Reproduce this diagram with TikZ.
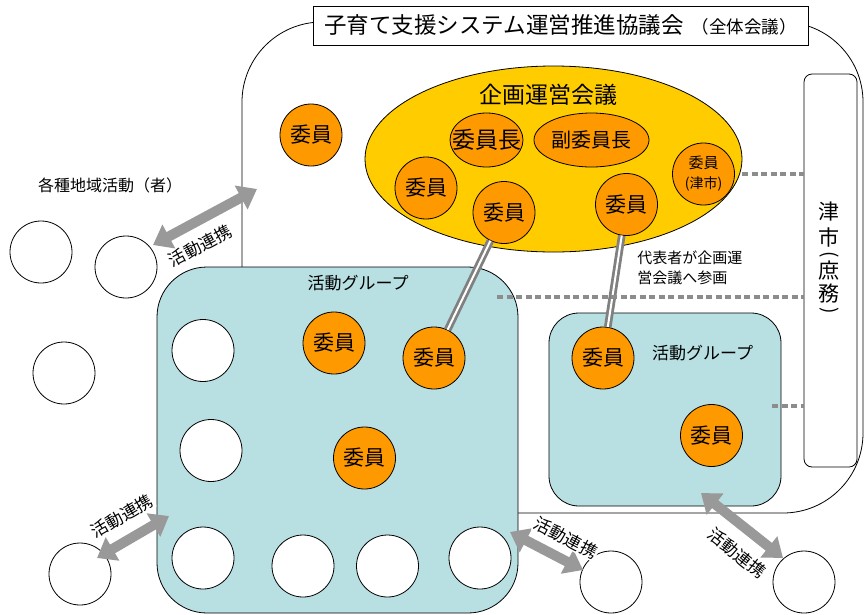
\documentclass[tikz,border=0pt]{standalone}
\usepackage{fontspec}
\setmainfont{Noto Sans CJK JP}
\usetikzlibrary{arrows.meta,shapes.geometric}
\definecolor{gold}{HTML}{FFCC00}
\definecolor{orng}{HTML}{FF9900}
\definecolor{aqua}{HTML}{B8DFE2}
\definecolor{dotgray}{HTML}{8C8C8C}
\definecolor{arrgray}{HTML}{999999}
\definecolor{dblgray}{HTML}{808080}
\newcommand{\fsz}[1]{\fontsize{#1}{#1}\selectfont}
\begin{document}
\begin{tikzpicture}[x=1pt,y=-1pt, line width=0.8pt,
  orangeshape/.style={draw, fill=orng, inner sep=0pt},
  member/.style={orangeshape, circle, minimum size=62pt, label={[font=\fsz{21}, inner sep=0pt]center:#1}},
  blank/.style={circle, draw, fill=white, minimum size=62pt, inner sep=0pt},
  grpbox/.style={draw, fill=aqua, inner sep=0pt},
  citych/.style={font=\fsz{21}, inner sep=0pt},
  citypar/.style={font=\fsz{19}, inner sep=0pt, rotate=-90},
  dotline/.style={draw=dotgray, line width=4.5pt, dash pattern=on 6pt off 3.5pt},
  dblline/.style={draw=dblgray, line width=2.8pt, double=white, double distance=2pt},
  biarrow/.style={draw=arrgray, line width=10pt, {Triangle[width=26pt,length=18pt]}-{Triangle[width=26pt,length=18pt]}},
  linklabel/.style={font=\fsz{17}, fill=white, inner sep=1pt}
]
\useasboundingbox (0,0) rectangle (864,614);
\fill[white] (0,0) rectangle (864,614);

% whole council frame
\node[draw, rounded corners=80pt, fill=white, minimum width=621pt, minimum height=491pt, inner sep=0pt] (whole) at (552.5,267.5) {};
\node[draw, fill=white, minimum width=495pt, minimum height=39pt, inner sep=0pt] (title) at (560.5,25.5)
  {{\fsz{22.5}子育て支援システム運営推進協議会}\hspace{8pt}{\fsz{17.5}（全体会議）}};

% city box
\node[draw, fill=white, rounded corners=8pt, minimum width=53pt, minimum height=393pt, inner sep=0pt] (city) at (830.5,270.5) {};
\node[citych] (ct1) at (829,212) {津};
\node[citych] (ct2) at (829,237) {市};
\node[citypar] (ct3) at (829,255) {(};
\node[citych] (ct4) at (829,271) {庶};
\node[citych] (ct5) at (829,294) {務};
\node[citypar] (ct6) at (829,311) {)};

% planning committee
\node[ellipse, draw, fill=gold, minimum width=377pt, minimum height=186pt, inner sep=0pt] (plan) at (553.5,159) {};
\node[font=\fsz{23}, inner sep=0pt] (plantitle) at (548.5,95) {企画運営会議};
\node[orangeshape, ellipse, minimum width=73pt, minimum height=54pt, label={[font=\fsz{23}, inner sep=0pt]center:委員長}] (chair) at (486.5,140) {};
\node[orangeshape, ellipse, minimum width=115pt, minimum height=54pt, label={[font=\fsz{20}, inner sep=0pt]center:副委員長}] (vice) at (591.5,140) {};
\node[member=委員] (m1) at (426,188) {};
\node[member=委員] (m2) at (504,212.5) {};
\node[member=委員] (m3) at (626.5,204.5) {};
\node[orangeshape, circle, minimum size=62pt] (m4) at (703.5,174) {};
\node[font=\fontsize{15}{20}\selectfont, align=center, inner sep=0pt] (m4txt) at (703.5,174) {委員\\{\fsz{14}(津市)}};
\node[member=委員] (m0) at (311,135) {};

% activity group 1
\node[grpbox, rounded corners=50pt, minimum width=361pt, minimum height=346pt] (g1) at (337.5,440) {};
\node[font=\fsz{17}, inner sep=0pt] (g1lbl) at (358,283) {活動グループ};
\node[blank] (b1) at (203,350.5) {};
\node[blank] (b2) at (211,450.5) {};
\node[blank] (b3) at (203,558) {};
\node[blank] (b4) at (303,566) {};
\node[blank] (b5) at (387.5,566) {};
\node[blank] (b6) at (480,558) {};
\node[member=委員] (g1m1) at (334,343) {};
\node[member=委員] (g1m2) at (434,358) {};
\node[member=委員] (g1m3) at (364.5,458) {};

% activity group 2
\node[grpbox, rounded corners=30pt, minimum width=232pt, minimum height=193pt] (g2) at (665,409.5) {};
\node[font=\fsz{17}, inner sep=0pt] (g2lbl) at (702.5,353) {活動グループ};
\node[member=委員] (g2m1) at (603,358) {};
\node[member=委員] (g2m2) at (711.5,435.5) {};

% outside circles
\node[blank] (o1) at (41,252) {};
\node[blank] (o2) at (126,267) {};
\node[blank] (o3) at (64,373) {};
\node[blank] (o4) at (80,574) {};
\node[blank] (o5) at (611,582) {};
\node[blank] (o6) at (804,582) {};
\node[font=\fsz{16}, inner sep=0pt] (local) at (110,185) {各種地域活動（者）};

% representatives
\draw[dblline] (m2) -- (g1m2);
\draw[dblline] (m3) -- (g2m1);
\node[font=\fontsize{15}{20}\selectfont, align=left, anchor=north west, inner sep=0pt] (rep) at (637,250) {代表者が企画運\\営会議へ参画};

% dotted links to city
\coordinate (d1) at (742,174);
\coordinate (d2) at (497,297);
\coordinate (d3) at (772,406);
\draw[dotline] (d1) -- (city.west |- d1);
\draw[dotline] (d2) -- (city.west |- d2);
\draw[dotline] (d3) -- (city.west |- d3);

% cooperation arrows
\coordinate (a1s) at (153,245); \coordinate (a1e) at (257,189);
\coordinate (a2s) at (97,558);  \coordinate (a2e) at (169,516);
\coordinate (a3s) at (510,532); \coordinate (a3e) at (583,570);
\coordinate (a4s) at (701,493); \coordinate (a4e) at (783,558);
\draw[biarrow] (a1s) -- (a1e);
\draw[biarrow] (a2s) -- (a2e);
\draw[biarrow] (a3s) -- (a3e);
\draw[biarrow] (a4s) -- (a4e);
\node[linklabel, rotate=28] (l1) at (200,246) {活動連携};
\node[linklabel, rotate=30] (l2) at (122,516) {活動連携};
\node[linklabel, rotate=-28] (l3) at (566,538) {活動連携};
\node[linklabel, rotate=-39] (l4) at (737,553) {活動連携};
\end{tikzpicture}
\end{document}
